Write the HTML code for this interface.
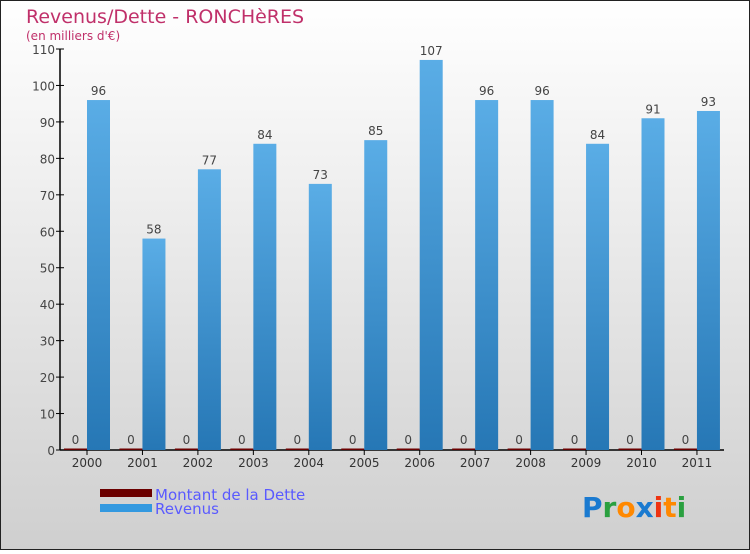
<!DOCTYPE html>
<html><head><meta charset="utf-8"><style>
body{margin:0;width:750px;height:550px;overflow:hidden;font-family:"DejaVu Sans","Liberation Sans",sans-serif}
svg text{font-family:"DejaVu Sans","Liberation Sans",sans-serif}
</style></head><body>
<svg width="750" height="550" xmlns="http://www.w3.org/2000/svg">
<defs>
<linearGradient id="bg" x1="0" y1="0" x2="0" y2="1"><stop offset="0" stop-color="#ffffff"/><stop offset="1" stop-color="#cfcfcf"/></linearGradient>
<linearGradient id="bl" x1="0" y1="0" x2="0" y2="1"><stop offset="0" stop-color="#5aade6"/><stop offset="1" stop-color="#2677b5"/></linearGradient>
</defs>
<rect x="0.5" y="0.5" width="749" height="549" fill="url(#bg)" stroke="#222"/>
<text x="26" y="23" font-size="19" fill="#c0306a">Revenus/Dette - RONCHèRES</text>
<text x="26" y="40" font-size="12" fill="#c0306a">(en milliers d'€)</text>
<g id="plot"></g>
<g>
<rect x="100" y="489" width="52" height="8" fill="#6b0000"/>
<text x="155" y="500" font-size="15" fill="#5a5aff">Montant de la Dette</text>
<rect x="100" y="504" width="52" height="8" fill="#3399e0"/>
<text x="155" y="514" font-size="15" fill="#5a5aff">Revenus</text>
</g>
<g font-size="28" font-weight="bold">
<text x="582" y="517"><tspan fill="#1a7ad0">P</tspan><tspan fill="#2aa040">r</tspan><tspan fill="#ff8800">o</tspan><tspan fill="#1a7ad0">x</tspan><tspan fill="#ee3311">i</tspan><tspan fill="#ff8800">t</tspan><tspan fill="#2aa040">i</tspan></text>
</g>
</svg>
<script>
const years=["2000","2001","2002","2003","2004","2005","2006","2007","2008","2009","2010","2011"];
const revenus=[96,58,77,84,73,85,107,96,96,84,91,93];
const dette=[0,0,0,0,0,0,0,0,0,0,0,0];
const yTicks=[0,10,20,30,40,50,60,70,80,90,100,110];
const NS="http://www.w3.org/2000/svg";
const g=document.getElementById('plot');
const y=v=>450-v*401/110;
const x=i=>87+i*55.45;
function mk(t,a){const e=document.createElementNS(NS,t);for(const k in a)e.setAttribute(k,a[k]);g.appendChild(e);return e;}
const ax=mk('line',{x1:60,y1:49,x2:60,y2:450,stroke:'#000','stroke-width':1.5});


const bx=mk('line',{x1:60,y1:450,x2:724,y2:450,stroke:'#000','stroke-width':1.5});


yTicks.forEach(v=>{
 const l=mk('line',{x1:56,x2:64,y1:y(v),y2:y(v),stroke:'#000'});
 
 
 const t=mk('text',{x:55,y:y(v)+5,'text-anchor':'end','font-size':12,fill:'#444'});t.textContent=v;
 
 
});
years.forEach((yr,i)=>{
 const c=x(i);
 const tk=mk('line',{x1:c,x2:c,y1:450,y2:455,stroke:'#000'});
 
 
 const t=mk('text',{x:c,y:467,'text-anchor':'middle','font-size':12,fill:'#333'});t.textContent=yr;
 
 
 const d=mk('rect',{x:c-23,y:y(dette[i])-1.5,width:23,height:450-y(dette[i])+1.5,fill:'#6b0000'});
 
 
 const dt=mk('text',{x:c-11.5,y:y(dette[i])-6,'text-anchor':'middle','font-size':12,fill:'#444'});dt.textContent=dette[i];
 
 
 const b=mk('rect',{x:c,y:y(revenus[i]),width:23,height:450-y(revenus[i]),fill:'url(#bl)'});
 
 
 const bt=mk('text',{x:c+11.5,y:y(revenus[i])-5,'text-anchor':'middle','font-size':12,fill:'#444'});bt.textContent=revenus[i];
 
 
});
</script>
</body></html>
